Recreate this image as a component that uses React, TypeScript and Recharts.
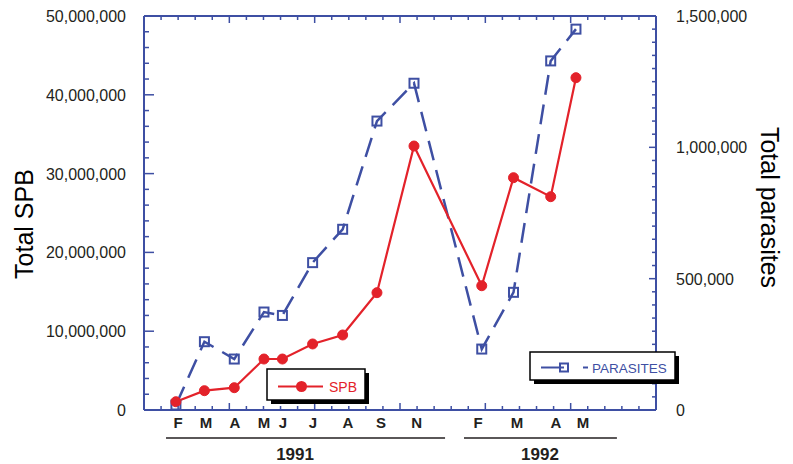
import React from 'react';
import { LineChart, Line, XAxis, YAxis, Legend } from 'recharts';

// x = sampling date, counted in half-month steps (one minor tick on the time axis)
const SAMPLE_X = [1.87, 3.54, 5.29, 7.03, 8.11, 9.88, 11.64, 13.65, 15.82, 19.79, 21.65, 23.83, 25.31];
const SPB = [1050000, 2450000, 2830000, 6470000, 6470000, 8380000, 9520000, 14890000, 33500000, 15770000, 29480000, 27070000, 42170000];
const PARASITES = [19000, 260000, 194000, 373000, 360000, 561000, 688000, 1100000, 1244000, 232000, 448000, 1329000, 1450000];

const MONTHS = ['F', 'M', 'A', 'M', 'J', 'J', 'A', 'S', 'N', 'F', 'M', 'A', 'M'];
const MONTH_X = [1.99, 3.63, 5.33, 7.03, 8.14, 9.9, 11.95, 13.89, 15.98, 19.57, 21.85, 24.14, 25.72];
const YEARS = ['1991', '1992'];
const YEAR_X = [8.85, 23.2];
const YEAR_SPAN = [[1.29, 17.64], [18.75, 27.71]];

const SPB_TICKS = [0, 10000000, 20000000, 30000000, 40000000, 50000000];
const SPB_LABELS = ['0', '10,000,000', '20,000,000', '30,000,000', '40,000,000', '50,000,000'];
const PAR_TICKS = [0, 500000, 1000000, 1500000];
const PAR_LABELS = ['0', '500,000', '1,000,000', '1,500,000'];

const RED = '#e3222a';
const BLUE = '#3e4fa3';
const INK = '#231f20';
const FONT = '"Liberation Sans", Arial, Helvetica, sans-serif';

const W = 793;
const H = 464;
const PLOT_LEFT = 144;
const PLOT_RIGHT = 656;
const X_MAX = 30;
const PX = (PLOT_RIGHT - PLOT_LEFT) / X_MAX;

const data = SAMPLE_X.map((x, i) => ({ x, spb: SPB[i], parasites: PARASITES[i] }));

// minor tick marks
const X_MARKS = Array.from({ length: X_MAX + 1 }, (_, i) => i);
const SPB_MARKS = Array.from({ length: 26 }, (_, i) => i * 2000000);
const PAR_MARKS = Array.from({ length: 31 }, (_, i) => i * 50000);
const BOTTOM_TICKS = [...X_MARKS, ...MONTH_X, ...YEAR_X].sort((a, b) => a - b);

const BottomTick = (props: any) => {
  const { x, y, payload } = props;
  const v = payload.value;
  const mi = MONTH_X.indexOf(v);
  const yi = YEAR_X.indexOf(v);
  return (
    <g>
      {Number.isInteger(v) && v > 0 && v < X_MAX && (
        <line x1={x} x2={x} y1={y} y2={y - (v % 5 === 0 ? 7 : 4)} stroke={BLUE} strokeWidth={1.5} />
      )}
      {mi >= 0 && (
        <text x={x} y={y + 18} textAnchor="middle" fontSize={15} fontWeight="bold" fill={INK} fontFamily={FONT}>
          {MONTHS[mi]}
        </text>
      )}
      {yi >= 0 && (
        <g>
          <line
            x1={x + (YEAR_SPAN[yi][0] - v) * PX}
            x2={x + (YEAR_SPAN[yi][1] - v) * PX}
            y1={y + 28}
            y2={y + 28}
            stroke={INK}
            strokeWidth={1.5}
          />
          <text x={x} y={y + 50} textAnchor="middle" fontSize={17} fontWeight="bold" fill={INK} fontFamily={FONT}>
            {YEARS[yi]}
          </text>
        </g>
      )}
    </g>
  );
};

const TopTick = (props: any) => {
  const { x, y, payload } = props;
  const v = payload.value;
  if (v <= 0 || v >= X_MAX) return <g />;
  return <line x1={x} x2={x} y1={y} y2={y + (v % 5 === 0 ? 7 : 4)} stroke={BLUE} strokeWidth={1.5} />;
};

const LeftTick = (props: any) => {
  const { x, y, payload } = props;
  const v = payload.value;
  const li = SPB_TICKS.indexOf(v);
  return (
    <g>
      {v > 0 && v < 50000000 && (
        <line x1={x} x2={x + (li >= 0 ? 10 : 5)} y1={y} y2={y} stroke={BLUE} strokeWidth={1.5} />
      )}
      {li >= 0 && (
        <text x={x - 18} y={y + 6} textAnchor="end" fontSize={16} fill={INK} fontFamily={FONT}>
          {SPB_LABELS[li]}
        </text>
      )}
    </g>
  );
};

const RightTick = (props: any) => {
  const { x, y, payload } = props;
  const v = payload.value;
  const li = PAR_TICKS.indexOf(v);
  return (
    <g>
      {v > 0 && v < 1500000 && (
        <line x1={x} x2={x - (li >= 0 ? 7 : 4)} y1={y} y2={y} stroke={BLUE} strokeWidth={1.5} />
      )}
      {li >= 0 && (
        <text x={x + 20} y={y + 6} textAnchor="start" fontSize={16} fill={INK} fontFamily={FONT}>
          {PAR_LABELS[li]}
        </text>
      )}
    </g>
  );
};

const SquareDot = (props: any) => {
  const { cx, cy, index } = props;
  if (cx == null || cy == null) return <g key={`sq-${index}`} />;
  return (
    <rect key={`sq-${index}`} x={cx - 4.5} y={cy - 4.5} width={9} height={9} fill="none" stroke={BLUE} strokeWidth={2} />
  );
};

const LegendBoxes = (props: any) => {
  const payload = props.payload || [];
  const spb = payload.find((p: any) => p.dataKey === 'spb');
  const par = payload.find((p: any) => p.dataKey === 'parasites');
  return (
    <svg width={W} height={H} style={{ position: 'absolute', left: 0, top: 0 }}>
      {spb && (
        <g>
          <rect x={271} y={373} width={98} height={31} fill="#000" />
          <rect x={267} y={369} width={98} height={31} fill="#fff" stroke="#000" strokeWidth={1.5} />
          <line x1={278} x2={323} y1={386.5} y2={386.5} stroke={spb.color} strokeWidth={2} />
          <circle cx={301.5} cy={386.5} r={5.5} fill={spb.color} />
          <text x={329} y={391.5} fontSize={14} fill={spb.color} fontFamily={FONT}>
            {spb.value}
          </text>
        </g>
      )}
      {par && (
        <g>
          <rect x={534} y={356} width={145} height={28} fill="#000" />
          <rect x={530} y={352} width={145} height={28} fill="#fff" stroke="#000" strokeWidth={1.5} />
          <line x1={541} x2={564} y1={367.5} y2={367.5} stroke={par.color} strokeWidth={2} />
          <rect x={560} y={363.5} width={8} height={8} fill="none" stroke={par.color} strokeWidth={2} />
          <line x1={583} x2={588} y1={367.5} y2={367.5} stroke={par.color} strokeWidth={2} />
          <text x={592} y={372.5} fontSize={13.5} fill={par.color} fontFamily={FONT}>
            {par.value}
          </text>
        </g>
      )}
    </svg>
  );
};

const LeftTitle = (props: any) => {
  const vb = props.viewBox || { x: 0, y: 16, width: 144, height: 394 };
  const cx = vb.x + 33;
  const cy = vb.y + vb.height / 2 + 11;
  return (
    <text x={cx} y={cy} transform={`rotate(-90 ${cx} ${cy})`} textAnchor="middle" fontSize={25} fill="#000" fontFamily={FONT}>
      Total SPB
    </text>
  );
};

const RightTitle = (props: any) => {
  const vb = props.viewBox || { x: 656, y: 16, width: 137, height: 394 };
  const cx = vb.x + 105;
  const cy = vb.y + vb.height / 2 - 5.5;
  return (
    <text x={cx} y={cy} transform={`rotate(90 ${cx} ${cy})`} textAnchor="middle" fontSize={25} fill="#000" fontFamily={FONT}>
      Total parasites
    </text>
  );
};

export default function App() {
  return (
    <div style={{ position: 'absolute', left: 0, top: 0, width: W, height: H, background: '#fff' }}>
      <LineChart width={W} height={H} data={data} margin={{ top: 0, right: 0, bottom: 0, left: 0 }}>
        <XAxis
          xAxisId="bottom"
          dataKey="x"
          type="number"
          domain={[0, X_MAX]}
          allowDataOverflow
          ticks={BOTTOM_TICKS}
          interval={0}
          height={54}
          tickSize={0}
          tickMargin={0}
          tickLine={false}
          tick={BottomTick}
          axisLine={{ stroke: BLUE, strokeWidth: 2 }}
        />
        <XAxis
          xAxisId="top"
          orientation="top"
          dataKey="x"
          type="number"
          domain={[0, X_MAX]}
          allowDataOverflow
          ticks={X_MARKS}
          interval={0}
          height={16}
          tickSize={0}
          tickMargin={0}
          tickLine={false}
          tick={TopTick}
          axisLine={{ stroke: BLUE, strokeWidth: 2 }}
        />
        <YAxis
          yAxisId="left"
          type="number"
          domain={[0, 50000000]}
          allowDataOverflow
          ticks={SPB_MARKS}
          interval={0}
          width={144}
          tickSize={0}
          tickMargin={0}
          tickLine={false}
          tick={LeftTick}
          axisLine={{ stroke: BLUE, strokeWidth: 2 }}
          label={LeftTitle}
        />
        <YAxis
          yAxisId="right"
          orientation="right"
          type="number"
          domain={[0, 1500000]}
          allowDataOverflow
          ticks={PAR_MARKS}
          interval={0}
          width={137}
          tickSize={0}
          tickMargin={0}
          tickLine={false}
          tick={RightTick}
          axisLine={{ stroke: BLUE, strokeWidth: 2 }}
          label={RightTitle}
        />
        <Legend
          verticalAlign="middle"
          align="center"
          content={LegendBoxes}
          wrapperStyle={{ left: 0, top: 0, width: W, height: H, pointerEvents: 'none' }}
        />
        <Line
          xAxisId="bottom"
          yAxisId="right"
          dataKey="parasites"
          name="PARASITES"
          stroke={BLUE}
          strokeWidth={2.5}
          strokeDasharray="20 10"
          dot={SquareDot}
          isAnimationActive={false}
        />
        <Line
          xAxisId="bottom"
          yAxisId="left"
          dataKey="spb"
          name="SPB"
          stroke={RED}
          strokeWidth={2.2}
          dot={{ r: 5, fill: RED, stroke: RED, strokeWidth: 1 }}
          isAnimationActive={false}
        />
      </LineChart>
    </div>
  );
}
